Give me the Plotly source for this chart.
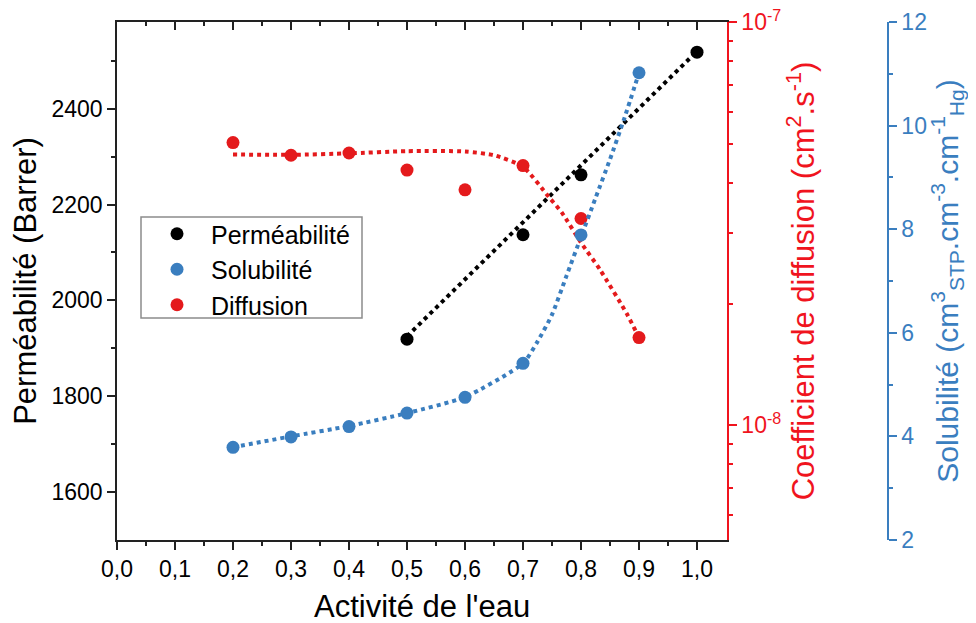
import plotly.graph_objects as go

# ---------------- data ----------------
x_tick_vals = [0.0, 0.1, 0.2, 0.3, 0.4, 0.5, 0.6, 0.7, 0.8, 0.9, 1.0]
x_tick_text = ["0,0", "0,1", "0,2", "0,3", "0,4", "0,5", "0,6", "0,7", "0,8", "0,9", "1,0"]

perm_x = [0.5, 0.7, 0.8, 1.0]
perm_y = [1919, 2137, 2262, 2518]

activite = [0.2, 0.3, 0.4, 0.5, 0.6, 0.7, 0.8, 0.9]
sol_y = [3.79, 3.99, 4.19, 4.45, 4.755, 5.41, 7.89, 11.02]
diff_y = [5.03e-8, 4.68e-8, 4.74e-8, 4.30e-8, 3.84e-8, 4.41e-8, 3.26e-8, 1.65e-8]

# fitted trend lines
perm_fit_x = [0.5, 1.0]
perm_fit_y = [1925, 2520]

sol_fit_x = [0.2, 0.3, 0.4, 0.5, 0.6, 0.7, 0.725, 0.75, 0.775, 0.8, 0.825, 0.85, 0.875, 0.9]
sol_fit_y = [3.79, 4.0, 4.2, 4.45, 4.76, 5.41, 5.83, 6.35, 7.1, 7.85, 8.6, 9.35, 10.15, 11.02]

diff_fit_x = [0.2, 0.3, 0.4, 0.5, 0.6, 0.65, 0.7, 0.745, 0.767, 0.8, 0.833, 0.879, 0.9]
diff_fit_y = [4.70e-8, 4.69e-8, 4.73e-8, 4.79e-8, 4.78e-8, 4.68e-8, 4.38e-8,
              3.68e-8, 3.37e-8, 2.84e-8, 2.43e-8, 1.89e-8, 1.65e-8]

y1_ticks = [1600, 1800, 2000, 2200, 2400]
y1_minor = [1700, 1900, 2100, 2300, 2500]
y2_ticks = [1e-8, 1e-7]
y2_ticktext = ["10<sup>-8</sup>", "10<sup>-7</sup>"]
y2_minor = [6e-9, 7e-9, 8e-9, 9e-9, 2e-8, 3e-8, 4e-8, 5e-8, 6e-8, 7e-8, 8e-8, 9e-8]
y3_ticks = [2, 4, 6, 8, 10, 12]
y3_minor = [3, 5, 7, 9, 11]
x_minor = [0.05, 0.15, 0.25, 0.35, 0.45, 0.55, 0.65, 0.75, 0.85, 0.95]

x_title = "Activité de l'eau"

# ---------------- styles ----------------
BLACK = "#000000"
AXC = "#222222"
BLUE = "#3a7ebf"
RED = "#e41a1c"
RED_AXIS = "#f0141e"
FONT = "Liberation Sans, Arial, sans-serif"
TICK = 23
TITLE = 31

fig = go.Figure()

# fit lines
fig.add_trace(go.Scatter(x=perm_fit_x, y=perm_fit_y, mode="lines",
                         line=dict(color=BLACK, width=4, dash="dot"),
                         showlegend=False, hoverinfo="skip"))
fig.add_trace(go.Scatter(x=sol_fit_x, y=sol_fit_y, mode="lines", yaxis="y3",
                         line=dict(color=BLUE, width=4, dash="dot", shape="spline", smoothing=0.6),
                         showlegend=False, hoverinfo="skip"))
fig.add_trace(go.Scatter(x=diff_fit_x, y=diff_fit_y, mode="lines", yaxis="y2",
                         line=dict(color=RED, width=4, dash="dot", shape="spline", smoothing=0.6),
                         showlegend=False, hoverinfo="skip"))

# data points
fig.add_trace(go.Scatter(x=perm_x, y=perm_y, mode="markers", name="Perméabilité",
                         marker=dict(color=BLACK, size=13)))
fig.add_trace(go.Scatter(x=activite, y=sol_y, mode="markers", name="Solubilité", yaxis="y3",
                         marker=dict(color=BLUE, size=13)))
fig.add_trace(go.Scatter(x=activite, y=diff_y, mode="markers", name="Diffusion", yaxis="y2",
                         marker=dict(color=RED, size=13)))

# invisible trace to hold the top (mirror) axis
fig.add_trace(go.Scatter(x=[0.5], y=[2000], xaxis="x2", mode="markers",
                         marker=dict(opacity=0), showlegend=False, hoverinfo="skip"))

# page body has an 8px margin: work in figure coordinates = screen - 8
W, H = 960, 615
ML, MR, MT, MB = 109, 0, 14, 83
plot_w = W - ML - MR
plot_h = H - MT - MB
x_dom_end = 610 / plot_w
blue_pos = 771 / plot_w


def px(sx):
    return (sx - 117) / plot_w


def py(sy):
    return (540 - sy) / plot_h


fig.update_layout(
    width=W, height=H,
    margin=dict(l=ML, r=MR, t=MT, b=MB, autoexpand=False),
    paper_bgcolor="white", plot_bgcolor="white",
    font=dict(family=FONT, color=BLACK, size=TICK),
    xaxis=dict(
        domain=[0, x_dom_end], range=[0, 1.0517],
        tickmode="array", tickvals=x_tick_vals, ticktext=x_tick_text,
        ticks="outside", ticklen=8, tickwidth=1.5, tickcolor=AXC,
        minor=dict(tickmode="array", tickvals=x_minor,
                   ticks="outside", ticklen=4, tickwidth=1.5, tickcolor=AXC),
        showline=True, linecolor=AXC, linewidth=1.5,
        showgrid=False, zeroline=False,
        tickfont=dict(size=TICK),
    ),
    xaxis2=dict(
        overlaying="x", side="top", anchor="y", matches="x",
        range=[0, 1.0517],
        tickmode="array", tickvals=x_tick_vals, showticklabels=False,
        ticks="inside", ticklen=8, tickwidth=1.5, tickcolor=AXC,
        minor=dict(tickmode="array", tickvals=x_minor,
                   ticks="inside", ticklen=4, tickwidth=1.5, tickcolor=AXC),
        showline=True, linecolor=AXC, linewidth=1.5,
        showgrid=False, zeroline=False,
    ),
    yaxis=dict(
        range=[1500, 2581],
        tickmode="array", tickvals=y1_ticks,
        ticks="outside", ticklen=8, tickwidth=1.5, tickcolor=AXC,
        minor=dict(tickmode="array", tickvals=y1_minor,
                   ticks="outside", ticklen=4, tickwidth=1.5, tickcolor=AXC),
        showline=True, linecolor=AXC, linewidth=1.5,
        showgrid=False, zeroline=False,
        tickfont=dict(size=TICK),
        title=dict(text="Perméabilité (Barrer)", font=dict(size=TITLE), standoff=10),
    ),
    yaxis2=dict(
        type="log", overlaying="y", side="right", anchor="x",
        range=[-8.285, -6.999],
        tickmode="array", tickvals=y2_ticks, ticktext=y2_ticktext,
        ticklabeloverflow="allow",
        ticks="outside", ticklen=8, tickwidth=1.5, tickcolor=RED_AXIS,
        minor=dict(tickmode="array", tickvals=y2_minor,
                   ticks="outside", ticklen=4, tickwidth=1.5, tickcolor=RED_AXIS),
        showline=True, linecolor=RED_AXIS, linewidth=1.5,
        showgrid=False, zeroline=False,
        tickfont=dict(size=TICK, color=RED_AXIS),
        title=dict(text="Coefficient de diffusion (cm<sup>2</sup>.s<sup>-1</sup>)",
                   font=dict(size=TITLE, color=RED_AXIS), standoff=10),
    ),
    yaxis3=dict(
        overlaying="y", side="right", anchor="free", position=blue_pos,
        range=[2, 12],
        tickmode="array", tickvals=y3_ticks,
        ticklabeloverflow="allow",
        ticks="outside", ticklen=8, tickwidth=1.5, tickcolor=BLUE,
        minor=dict(tickmode="array", tickvals=y3_minor,
                   ticks="outside", ticklen=4, tickwidth=1.5, tickcolor=BLUE),
        showline=True, linecolor=BLUE, linewidth=1.5,
        showgrid=False, zeroline=False,
        tickfont=dict(size=TICK, color=BLUE),
        title=dict(text="Solubilité (cm<sup>3</sup><sub>STP</sub>.cm<sup>-3</sup>.cm<sup>-1</sup><sub>Hg</sub>)",
                   font=dict(size=30, color=BLUE), standoff=8),
    ),
    legend=dict(
        x=px(143), y=py(211),
        xanchor="left", yanchor="top",
        bgcolor="rgba(0,0,0,0)", borderwidth=0,
        font=dict(size=25, color=BLACK),
        itemwidth=58,
    ),
    shapes=[dict(type="rect", xref="paper", yref="paper",
                 x0=px(141), x1=px(362), y0=py(318), y1=py(217),
                 line=dict(color="#8c8c8c", width=1.5), fillcolor="rgba(0,0,0,0)",
                 layer="above")],
    annotations=[dict(text=x_title, xref="paper", yref="paper",
                      x=px(422), y=py(606), xanchor="center", yanchor="middle",
                      showarrow=False, font=dict(size=TITLE, color=BLACK))],
)

fig.write_html("out.html")
